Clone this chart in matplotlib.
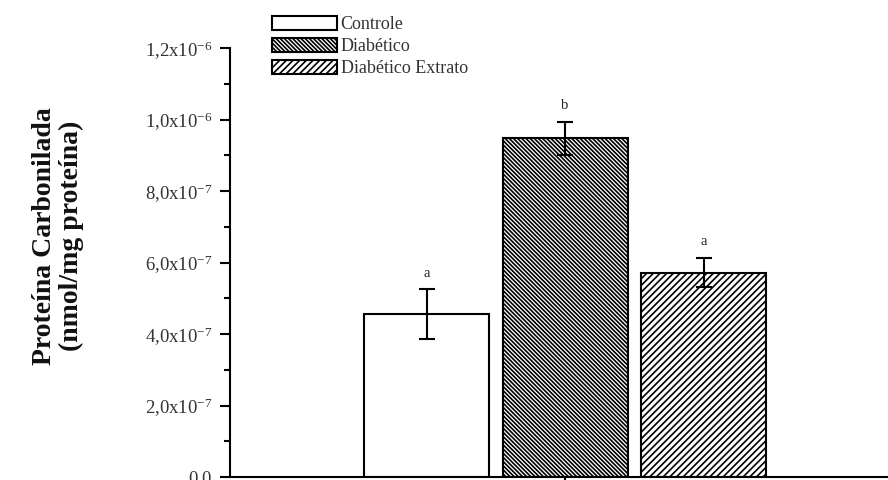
import matplotlib
matplotlib.use("Agg")
import matplotlib.pyplot as plt
from matplotlib.patches import Patch
from matplotlib.ticker import FixedLocator, FixedFormatter, MultipleLocator

plt.rcParams['font.family'] = ['Liberation Serif', 'DejaVu Serif']
plt.rcParams['mathtext.fontset'] = 'custom'
plt.rcParams['mathtext.rm'] = 'Liberation Serif'
plt.rcParams['mathtext.it'] = 'Liberation Serif:italic'
plt.rcParams['mathtext.bf'] = 'Liberation Serif:bold'
plt.rcParams['hatch.linewidth'] = 1.2

# ---- data ----
groups = ["Controle", "Diabético", "Diabético Extrato"]
means = [4.55e-7, 9.48e-7, 5.72e-7]
errors = [0.70e-7, 0.46e-7, 0.40e-7]
letters = ["a", "b", "a"]
ytick_values = [0.0, 2e-7, 4e-7, 6e-7, 8e-7, 1.0e-6, 1.2e-6]
ytick_labels = ["0,0", "2,0x10$^{-7}$", "4,0x10$^{-7}$", "6,0x10$^{-7}$",
                "8,0x10$^{-7}$", "1,0x10$^{-6}$", "1,2x10$^{-6}$"]
ylabel = "Proteína Carbonilada\n(nmol/mg proteína)"

hatches = ["", "\\" * 8, "/" * 5]

fig = plt.figure(figsize=(8.88, 4.8), dpi=100)
ax = fig.add_axes([230/888, 3/480, 1 - 230/888, (477-48)/480])

x = list(range(len(groups)))
bars = ax.bar(x, means, width=0.9025, color="white", edgecolor="black",
              linewidth=1.5, zorder=2)
for b, h in zip(bars, hatches):
    b.set_hatch(h)
ax.errorbar(x, means, yerr=errors, fmt="none", ecolor="black",
            elinewidth=1.5, capsize=6, capthick=1.5, zorder=3)

for xi, m, e, l in zip(x, means, errors, letters):
    ax.annotate(l, (xi, m + e), xytext=(0, 7), textcoords="offset points",
                ha="center", va="bottom", fontsize=10.5, color="#222222")

ax.set_xlim(-1.419, 3.332)
ax.set_ylim(0, 1.2e-6)
ax.yaxis.set_major_locator(FixedLocator(ytick_values))
ax.yaxis.set_major_formatter(FixedFormatter(ytick_labels))
ax.yaxis.set_minor_locator(MultipleLocator(1e-7))
ax.set_xticks([1])
ax.set_xticklabels([""])

for s in ["top", "right"]:
    ax.spines[s].set_visible(False)
for s in ["left", "bottom"]:
    ax.spines[s].set_linewidth(1.5)

ax.tick_params(axis="y", which="major", direction="out", length=7, width=1.5,
               labelsize=13.5, labelcolor="#333333", pad=6)
ax.tick_params(axis="y", which="minor", direction="out", length=4.3, width=1.5)
ax.tick_params(axis="x", which="major", direction="out", length=4, width=1.5)

fig.text(58/888, 1 - 236/480, ylabel, rotation=90, ha="center", va="center",
         fontsize=20, fontweight="bold", multialignment="center",
         linespacing=1.1, color="#111111")

handles = [Patch(facecolor="white", edgecolor="black", hatch=h, linewidth=1.5)
           for h in hatches]
leg = fig.legend(handles, groups, loc="upper left",
                 bbox_to_anchor=(272/888, 1 - 16/480), frameon=False,
                 borderpad=0, borderaxespad=0, handlelength=3.6,
                 handleheight=0.85, handletextpad=0.2, labelspacing=0.25,
                 fontsize=13, labelcolor="#333333")

fig.savefig("out.png", dpi=100)
